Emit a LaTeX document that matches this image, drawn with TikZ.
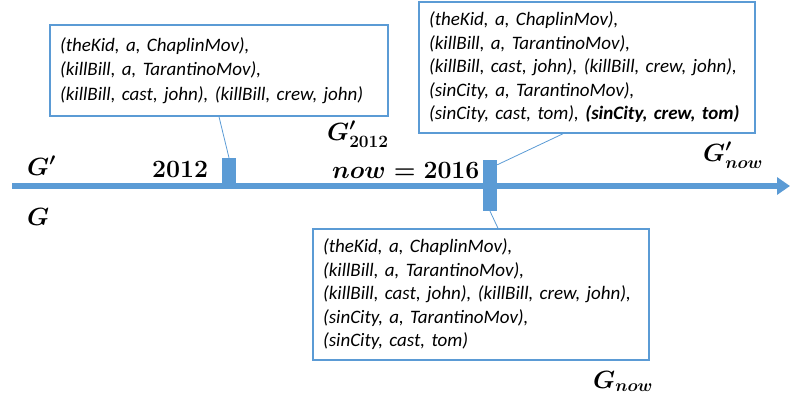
\documentclass[tikz,border=0pt]{standalone}
\usepackage{fontspec}
\usepackage{amsmath}
\newfontfamily\boxfont{Carlito}
\usetikzlibrary{arrows.meta,calc}
\definecolor{axisblue}{RGB}{91,155,213}
\begin{document}
\begin{tikzpicture}[x=1pt,y=-1pt,
  tbox/.style={draw=axisblue, line width=1.5pt, fill=white, align=left,
    font=\boxfont\itshape\fontsize{19}{23.5}\selectfont, inner xsep=10pt, inner ysep=0pt},
  tickbar/.style={fill=axisblue, inner sep=0pt, minimum width=14pt},
  conn/.style={draw=axisblue, line width=0.8pt},
  lbl/.style={inner sep=0pt, anchor=base west, font=\fontsize{25}{30}\selectfont\boldmath}]
\useasboundingbox (0,0) rectangle (790,400);
% axis
\coordinate (axstart) at (12,186);
\coordinate (axend) at (790,186);
\draw[axisblue, line width=5.5pt, -{Triangle[length=13pt,width=17pt]}] (axstart) -- (axend);
% ticks
\node[tickbar, minimum height=28pt] (t1) at (229,172) {};
\node[tickbar, minimum height=51pt] (t2) at (490,185.5) {};
% boxes
\node[tbox, text width=318pt, minimum height=91pt,
  font=\boxfont\itshape\fontsize{19}{24.5}\selectfont] (b1) at (219,70.5)
  {\mbox{(theKid, a, ChaplinMov),}\\
   \mbox{(killBill, a, TarantinoMov),}\\
   \mbox{(killBill, cast, john), (killBill, crew, john)}};
\node[tbox, text width=316pt, minimum height=131pt] (b2) at (587,67.5)
  {\mbox{(theKid, a, ChaplinMov),}\\
   \mbox{(killBill, a, TarantinoMov),}\\
   \mbox{(killBill, cast, john), (killBill, crew, john),}\\
   \mbox{(sinCity, a, TarantinoMov),}\\
   \mbox{(sinCity, cast, tom), \textbf{(sinCity, crew, tom)}}};
\node[tbox, text width=316pt, minimum height=131pt] (b3) at (481,294.5)
  {\mbox{(theKid, a, ChaplinMov),}\\
   \mbox{(killBill, a, TarantinoMov),}\\
   \mbox{(killBill, cast, john), (killBill, crew, john),}\\
   \mbox{(sinCity, a, TarantinoMov),}\\
   \mbox{(sinCity, cast, tom)}};
% connectors
\draw[conn] (b1.south) -- (t1.north);
\draw[conn] ([xshift=-24pt]b2.south) -- ([yshift=-5pt]t2.north east);
\draw[conn] (t2.south) -- ([xshift=17pt]b3.north);
% labels
\node[lbl] (gp) at (27,175) {$G'$};
\node[lbl] (g) at (27,225) {$G$};
\node[lbl] (y2012) at (152,177) {$2012$};
\node[lbl] (now) at (332,178) {$now = 2016$};
\node[lbl] (gp2012) at (327,140) {$G'_{2012}$};
\node[lbl] (gpnow) at (703,161) {$G'_{now}$};
\node[lbl] (gnow) at (593,388) {$G_{now}$};
\end{tikzpicture}
\end{document}
